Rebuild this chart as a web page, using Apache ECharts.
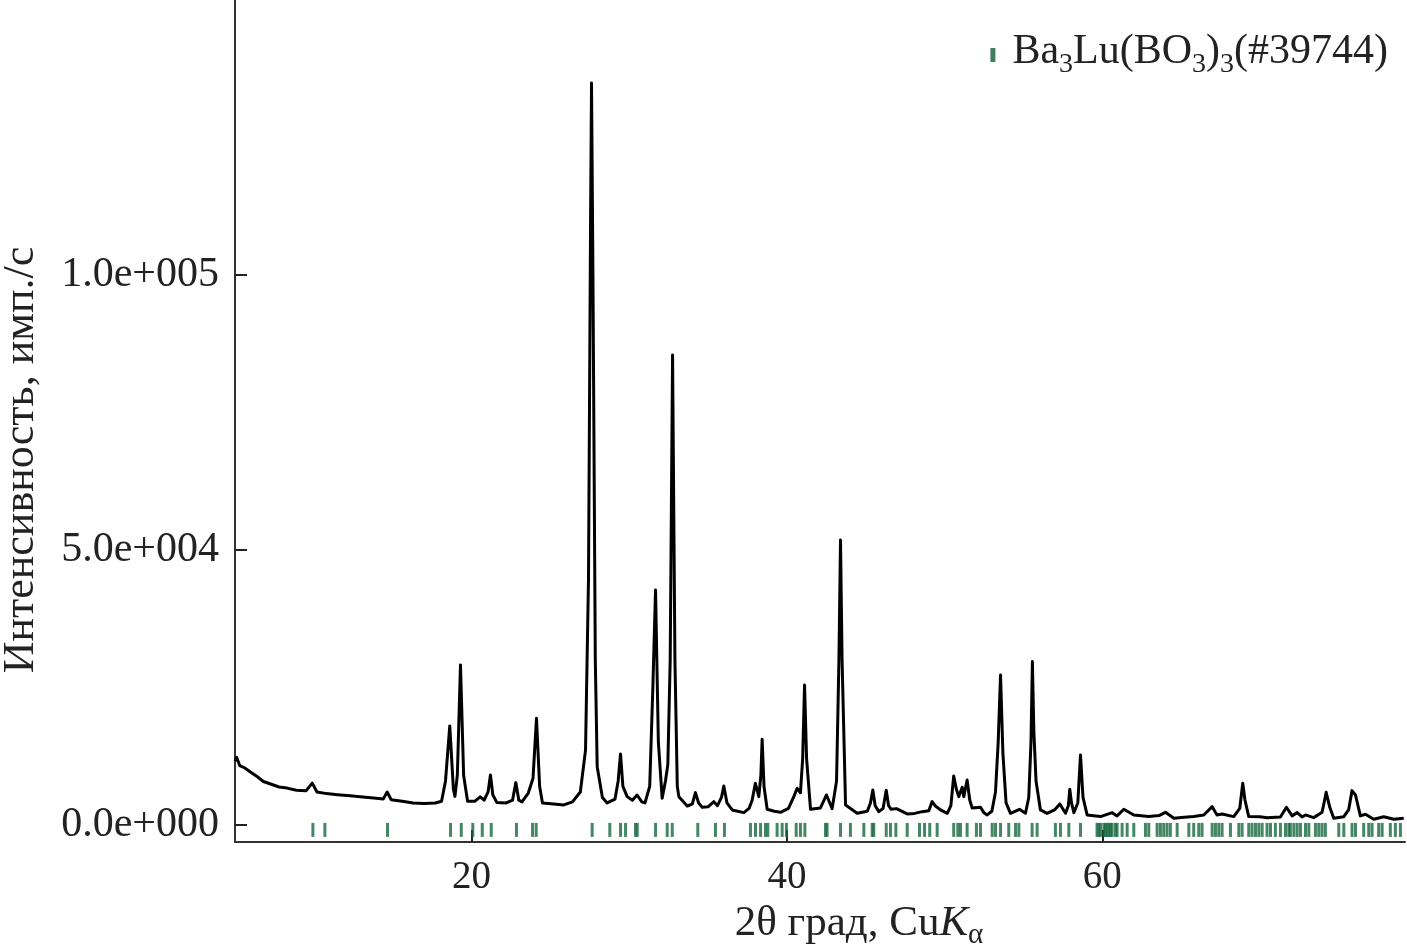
<!DOCTYPE html>
<html>
<head>
<meta charset="utf-8">
<script src="https://cdn.jsdelivr.net/npm/echarts@6/dist/echarts.min.js"></script>
<style>
html,body{margin:0;padding:0;background:#fff;}
#chart{width:1407px;height:947px;}
</style>
</head>
<body>
<div id="chart"></div>
<script>
// Measured diffraction pattern (2θ, degrees) and intensity (counts/s)
const twoTheta = [5.0,5.1,5.3,5.6,6.0,6.4,6.8,7.3,7.8,8.3,8.9,9.5,9.9,10.2,10.8,11.5,12.3,13.1,13.8,14.4,14.65,14.9,15.6,16.3,17.0,17.7,18.1,18.35,18.62,18.85,18.95,19.1,19.3,19.5,19.75,20.2,20.55,20.8,21.05,21.2,21.35,21.6,22.2,22.6,22.81,23.0,23.2,23.6,23.9,24.12,24.32,24.5,25.2,25.85,26.4,26.9,27.23,27.42,27.55,27.61,27.7,27.85,27.97,28.3,28.6,29.1,29.3,29.45,29.6,29.87,30.2,30.5,30.8,31.0,31.3,31.5,31.67,31.85,32.09,32.3,32.45,32.6,32.75,32.9,33.05,33.15,33.68,34.0,34.2,34.4,34.63,35.0,35.37,35.6,35.85,36.0,36.2,36.53,37.27,37.6,37.8,38.0,38.22,38.35,38.43,38.55,38.75,39.2,39.6,40.1,40.44,40.65,40.86,41.0,41.12,41.25,41.5,42.13,42.51,42.87,43.15,43.3,43.4,43.5,43.72,44.46,45.1,45.3,45.45,45.6,45.83,46.1,46.3,46.45,46.61,46.95,47.63,48.1,48.58,49.0,49.21,49.4,49.74,50.17,50.4,50.58,50.75,50.9,51.12,51.22,51.43,51.6,51.75,52.28,52.5,52.7,53.0,53.23,53.4,53.55,53.7,53.9,54.18,54.75,55.13,55.34,55.48,55.57,55.66,55.8,56.08,56.5,57.0,57.31,57.67,57.85,57.94,58.05,58.2,58.45,58.62,58.78,59.04,59.89,60.63,60.94,61.37,62.0,62.95,63.6,64.01,64.54,65.2,65.8,66.44,66.97,67.28,67.6,68.34,68.72,68.91,69.05,69.29,70.0,70.45,71.3,71.68,72.04,72.36,72.67,72.89,73.41,73.94,74.1,74.2,74.43,74.68,75.32,75.63,75.84,76.06,76.37,76.69,77.22,77.85,78.49,79.12];
const counts = [11600,12300,10800,10400,9600,8800,7900,7400,6900,6700,6300,6200,7600,6000,5700,5500,5300,5100,4900,4700,6000,4600,4300,4000,3900,4000,4300,8000,18000,6500,5200,9000,29100,9000,4300,4300,5100,4500,6000,9100,5500,4100,4000,4500,7700,4500,4200,5800,8500,19400,7000,4000,3800,3640,4200,6000,13600,45000,110000,134900,100000,30000,10600,5000,4000,4700,8000,12900,7000,5150,4500,5450,4200,4000,7000,25000,42700,15000,4850,8000,11000,30000,85450,30000,7000,5150,3450,3800,5880,4000,3210,3300,4240,3500,5000,7090,4000,2730,2240,3000,4540,7580,5150,9000,15580,7000,2850,2500,2300,3000,5150,6670,5850,12000,25450,12000,2850,3090,5450,2970,8000,30000,51800,30000,3640,2120,2500,4000,6360,3500,2420,3000,6300,3500,2850,2970,2000,2100,2420,2600,4240,3500,2730,2120,3500,8900,6500,5150,6850,5150,8180,4500,3090,3210,2200,1820,2500,6000,15000,27270,13000,4000,2120,2850,2120,5000,15000,29700,17270,8000,2730,2120,2800,3820,2120,3500,6490,4000,2240,4000,12730,5000,1820,1520,2240,1650,2850,1820,1520,1700,2300,1210,1400,1520,1820,3330,1820,2000,1520,3000,7580,4540,1520,1500,1300,1450,3210,1650,2240,1450,1820,1330,2300,4500,5940,3210,1210,1500,2800,6240,5450,1650,1950,1030,1500,1030,1210];
// Reference reflections of Ba3Lu(BO3)3 (#39744), 2θ positions
const phaseTicks = [9.94,10.70,14.67,18.67,19.35,20.08,20.68,21.25,22.85,23.87,24.10,27.65,28.77,29.45,29.77,30.40,30.51,31.67,32.41,32.73,34.35,35.47,36.04,37.69,38.01,38.33,38.64,38.79,39.38,39.70,39.97,40.59,40.86,41.14,42.45,42.55,43.40,44.03,44.88,45.41,45.51,46.30,46.57,46.91,47.63,48.41,48.73,49.06,49.53,50.58,50.84,51.01,51.43,52.02,52.28,53.02,53.23,53.55,54.07,54.50,54.71,55.55,55.87,57.03,57.35,57.88,58.62,59.67,59.78,59.89,60.10,60.20,60.31,60.42,60.52,60.63,60.84,60.94,61.26,61.58,62.00,62.74,62.95,63.48,63.69,63.90,64.11,64.32,64.75,65.49,65.80,66.12,66.33,66.97,67.18,67.39,67.60,68.13,68.66,68.87,69.29,69.50,69.72,69.93,70.14,70.45,70.67,70.98,71.30,71.62,71.83,71.93,72.15,72.36,72.57,72.89,73.10,73.52,73.73,73.94,74.15,75.00,75.32,75.84,76.06,76.58,76.90,77.11,77.53,77.75,78.27,78.59,78.91,79.23];
const phaseTickLevel = -900;
const xTickValues = [20, 40, 60];
const yTickValues = [0, 50000, 100000];
const yTickLabels = ['0.0e+000', '5.0e+004', '1.0e+005'];
const phaseName = 'Ba3Lu(BO3)3(#39744)';

const FONT = 'Liberation Serif';
const TXT = '#222';
const chart = echarts.init(document.getElementById('chart'));
const lineData = twoTheta.map((t, i) => [t, counts[i]]);
const tickData = phaseTicks.map(t => [t, phaseTickLevel]);

chart.setOption({
  animation: false,
  backgroundColor: '#fff',
  grid: { left: 235, right: 2, top: 0, bottom: 105, containLabel: false, outerBoundsMode: 'none' },
  legend: {
    data: [{ name: phaseName, icon: 'rect' }],
    right: 14, top: 26,
    itemWidth: 5, itemHeight: 14,
    itemStyle: { color: '#0f6036' },
    formatter: () => '{n|Ba}{s|3}{n|Lu(BO}{s|3}{n|)}{s|3}{n|(#39744)}',
    textStyle: {
      fontFamily: FONT, color: TXT, padding: [0, 0, 0, 12],
      rich: {
        n: { fontFamily: FONT, fontSize: 42, color: TXT, lineHeight: 48, verticalAlign: 'top' },
        s: { fontFamily: FONT, fontSize: 28, color: TXT, lineHeight: 48, verticalAlign: 'bottom' }
      }
    }
  },
  xAxis: {
    type: 'value', min: 5, max: 79.2,
    name: '{n|2θ град, Cu}{i|K}{s|α}',
    nameLocation: 'middle', nameGap: 46,
    nameTextStyle: {
      padding: [0, 0, 0, 78],
      rich: {
        n: { fontFamily: FONT, fontSize: 43, color: TXT, lineHeight: 48, verticalAlign: 'top' },
        i: { fontFamily: FONT, fontSize: 43, fontStyle: 'italic', color: TXT, lineHeight: 48, verticalAlign: 'top' },
        s: { fontFamily: FONT, fontSize: 29, color: TXT, lineHeight: 48, verticalAlign: 'bottom' }
      }
    },
    axisLine: { onZero: false, lineStyle: { color: '#333', width: 2 } },
    axisTick: { inside: true, length: 12, customValues: xTickValues, lineStyle: { color: '#222', width: 2 } },
    axisLabel: { customValues: xTickValues, fontFamily: FONT, fontSize: 39, color: TXT, margin: 16 },
    splitLine: { show: false }
  },
  yAxis: {
    type: 'value', min: -3100, max: 150000,
    name: 'Интенсивность, имп./с',
    nameLocation: 'middle', nameGap: 192, nameRotate: 90,
    nameTextStyle: { fontFamily: FONT, fontSize: 44, color: TXT, padding: [0, 78, 0, 0] },
    axisLine: { onZero: false, lineStyle: { color: '#333', width: 2 } },
    axisTick: { inside: true, length: 12, customValues: yTickValues, lineStyle: { color: '#222', width: 2 } },
    axisLabel: {
      customValues: yTickValues, fontFamily: FONT, fontSize: 42, color: TXT, margin: 16,
      formatter: v => yTickLabels[yTickValues.indexOf(v)]
    },
    splitLine: { show: false }
  },
  series: [
    {
      name: 'pattern', type: 'line', data: lineData,
      showSymbol: false, smooth: false, sampling: null,
      lineStyle: { color: '#000', width: 3, join: 'round' }, itemStyle: { color: '#000' },
      z: 3
    },
    {
      name: phaseName, type: 'scatter', data: tickData,
      symbol: 'rect', symbolSize: [3, 14],
      itemStyle: { color: '#17693f' },
      z: 2
    }
  ]
});
</script>
</body>
</html>
